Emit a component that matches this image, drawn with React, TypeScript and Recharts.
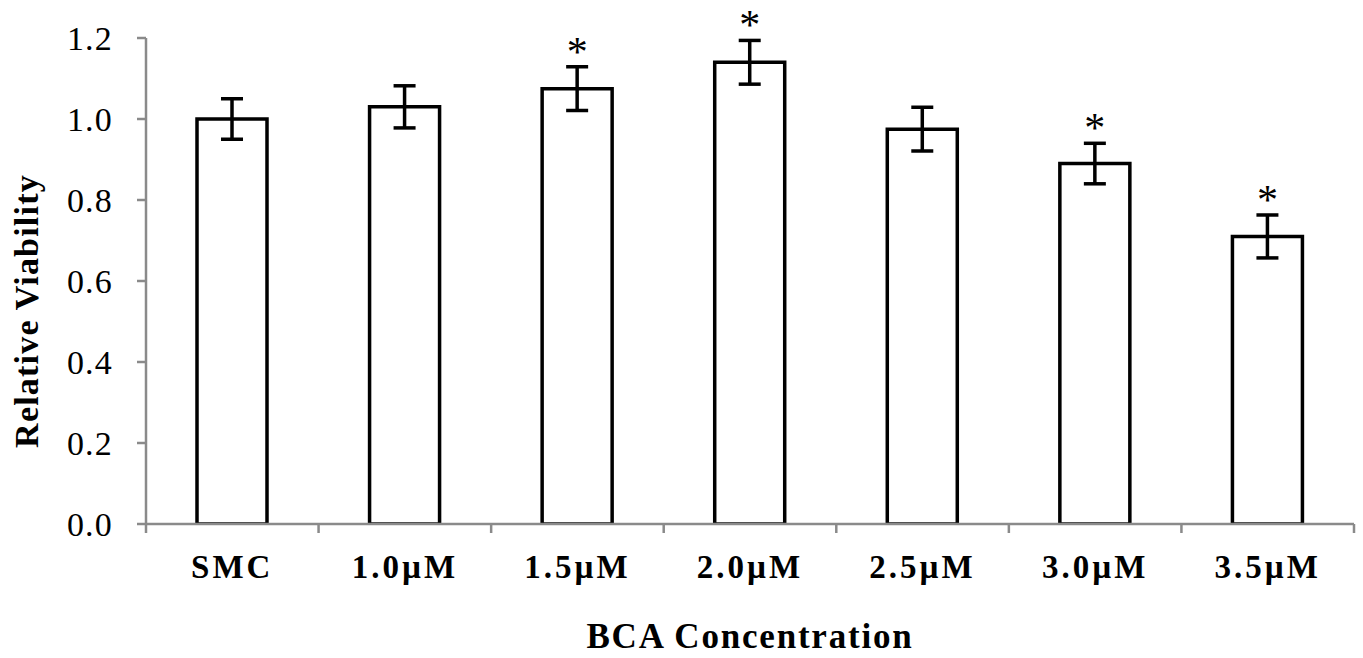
import React from 'react';
import { ComposedChart, Bar, XAxis, YAxis, ErrorBar, LabelList } from 'recharts';

const categories = ['SMC', '1.0\u00B5M', '1.5\u00B5M', '2.0\u00B5M', '2.5\u00B5M', '3.0\u00B5M', '3.5\u00B5M'];
const viability = [1.0, 1.03, 1.075, 1.14, 0.975, 0.89, 0.71];
const errors = [0.05, 0.052, 0.054, 0.054, 0.054, 0.05, 0.053];
const significant = [false, false, true, true, false, true, true];
const yTicks = [0, 0.2, 0.4, 0.6, 0.8, 1.0, 1.2];

const data = categories.map((c, i) => ({
  name: c,
  value: viability[i],
  err: errors[i],
  star: significant[i] ? '*' : '',
}));

const AXIS_COLOR = '#8a8a8a';
const FONT = '"Liberation Serif", "Times New Roman", serif';
const X_TICK_SIZE = 9;
const X_TICK_MARGIN = 22;

const XTick = (props: any) => {
  const { x, y, payload, index } = props;
  const off = payload && payload.offset ? payload.offset : 0;
  const axisY = y - X_TICK_MARGIN - X_TICK_SIZE;
  const last = index === categories.length - 1;
  return (
    <g>
      <line x1={x - off} x2={x - off} y1={axisY} y2={axisY + X_TICK_SIZE} stroke={AXIS_COLOR} strokeWidth={2.5} />
      {last && (
        <line x1={x + off} x2={x + off} y1={axisY} y2={axisY + X_TICK_SIZE} stroke={AXIS_COLOR} strokeWidth={2.5} />
      )}
      <text x={x} y={y} dy="0.71em" textAnchor="middle" fontFamily={FONT} fontWeight="bold" fontSize={33} letterSpacing={3} fill="#000">
        {payload.value}
      </text>
    </g>
  );
};

const StarLabel = (props: any) => {
  const { x, y, width, height, index } = props;
  if (!significant[index]) return null;
  const pxPerUnit = height / viability[index];
  const top = y - errors[index] * pxPerUnit;
  return (
    <text x={x + width / 2} y={top - 1} textAnchor="middle" fontFamily={FONT} fontSize={42} fill="#000">
      *
    </text>
  );
};

const YLabel = (props: any) => {
  const vb = props.viewBox || { x: 0, y: 38, width: 146, height: 486 };
  const cx = 38;
  const cy = vb.y + vb.height / 2 + 30;
  return (
    <text x={cx} y={cy} transform={`rotate(-90, ${cx}, ${cy})`} textAnchor="middle" fontFamily={FONT} fontWeight="bold" fontSize={34} letterSpacing={1.2} fill="#000">
      Relative Viability
    </text>
  );
};

const XLabel = (props: any) => {
  const vb = props.viewBox || { x: 146, y: 524, width: 1208, height: 134 };
  const cx = vb.x + vb.width / 2;
  return (
    <text x={cx} y={648} textAnchor="middle" fontFamily={FONT} fontWeight="bold" fontSize={35} letterSpacing={1.8} fill="#000">
      BCA Concentration
    </text>
  );
};

export default function App() {
  return (
    <div style={{ position: 'absolute', left: 0, top: 0, width: 1363, height: 658, background: '#fff' }}>
      <ComposedChart width={1363} height={658} data={data} margin={{ top: 38, right: 9, bottom: 0, left: 0 }}>
        <XAxis
          dataKey="name"
          height={134}
          axisLine={{ stroke: AXIS_COLOR, strokeWidth: 2.5 }}
          tickLine={false}
          tickSize={X_TICK_SIZE}
          tickMargin={X_TICK_MARGIN}
          tick={<XTick />}
          interval={0}
          label={<XLabel />}
        />
        <YAxis
          width={146}
          domain={[0, 1.2]}
          ticks={yTicks}
          tickFormatter={(v: number) => v.toFixed(1)}
          axisLine={{ stroke: AXIS_COLOR, strokeWidth: 2.5 }}
          tickLine={{ stroke: AXIS_COLOR, strokeWidth: 2.5 }}
          tickSize={9}
          tickMargin={24}
          tick={{ fill: '#000', fontFamily: FONT, fontSize: 34, letterSpacing: 1.2 }}
          label={<YLabel />}
          allowDataOverflow
        />
        <Bar dataKey="value" barSize={70} fill="#fff" stroke="#000" strokeWidth={3.5} isAnimationActive={false}>
          <ErrorBar dataKey="err" width={11} strokeWidth={3.5} stroke="#000" />
          <LabelList dataKey="star" content={StarLabel} />
        </Bar>
      </ComposedChart>
    </div>
  );
}
